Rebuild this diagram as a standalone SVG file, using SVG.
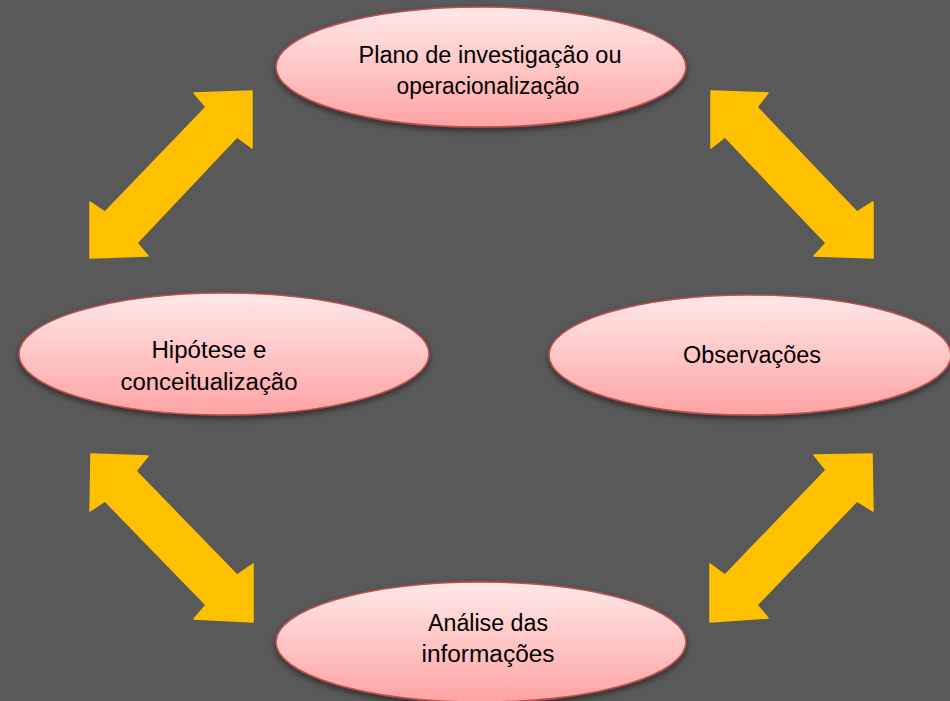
<svg xmlns="http://www.w3.org/2000/svg" width="950" height="701" viewBox="0 0 950 701">
<defs>
<linearGradient id="pink" x1="0" y1="0" x2="0" y2="1">
<stop offset="0" stop-color="#FFE8E8"/>
<stop offset="0.5" stop-color="#FFC6C6"/>
<stop offset="1" stop-color="#FFA3A3"/>
</linearGradient>
<filter id="sh" x="-10%" y="-20%" width="120%" height="150%">
<feGaussianBlur in="SourceAlpha" stdDeviation="3"/>
<feOffset dx="0" dy="3" result="b"/>
<feComponentTransfer><feFuncA type="linear" slope="0.5"/></feComponentTransfer>
<feMerge><feMergeNode/><feMergeNode in="SourceGraphic"/></feMerge>
</filter>
</defs>
<style>
.node ellipse{fill:url(#pink);stroke:#C0504D;stroke-width:1.5;filter:url(#sh)}
.node text{font-family:"Liberation Sans","Open Sans",sans-serif;font-size:23px;fill:#000;text-anchor:middle}
.arr path{fill:#FFC000;stroke:#FFC000;stroke-width:1.5;stroke-linejoin:round}
</style>
<rect width="950" height="701" fill="#595959"/>
<g id="connectors" class="arr">
<path d="M252,91 L194,93 L206,107 L105,212 L90,202 L90,258 L148,256 L137,243 L237,137 L252,148 Z"/>
<path d="M711,91 L768,93 L757,107 L857,212 L873,202 L873,258 L814,256 L826,243 L725,137 L711,148 Z"/>
<path d="M91,454 L148,456 L136,471 L237,575 L253,564 L253,622 L194,619 L206,605 L105,501 L90,511 Z"/>
<path d="M872,454 L814,455 L826,470 L725,575 L710,564 L710,622 L768,618 L757,605 L857,501 L873,511 Z"/>
</g>
<g id="node-plano" class="node">
<ellipse cx="481" cy="67" rx="205" ry="60"/>
<text x="490" y="63" textLength="263" lengthAdjust="spacingAndGlyphs">Plano de investigação ou</text>
<text x="488" y="94" textLength="183" lengthAdjust="spacingAndGlyphs">operacionalização</text>
</g>
<g id="node-hipotese" class="node">
<ellipse cx="224" cy="354" rx="205" ry="61"/>
<text x="209" y="358" textLength="115" lengthAdjust="spacingAndGlyphs">Hipótese e</text>
<text x="209" y="390" textLength="177" lengthAdjust="spacingAndGlyphs">conceitualização</text>
</g>
<g id="node-observacoes" class="node">
<ellipse cx="750" cy="355" rx="201" ry="60"/>
<text x="752" y="363" textLength="138" lengthAdjust="spacingAndGlyphs">Observações</text>
</g>
<g id="node-analise" class="node">
<ellipse cx="481" cy="642" rx="205" ry="60"/>
<text x="488" y="631" textLength="120" lengthAdjust="spacingAndGlyphs">Análise das</text>
<text x="488" y="662" textLength="133" lengthAdjust="spacingAndGlyphs">informações</text>
</g>
</svg>
